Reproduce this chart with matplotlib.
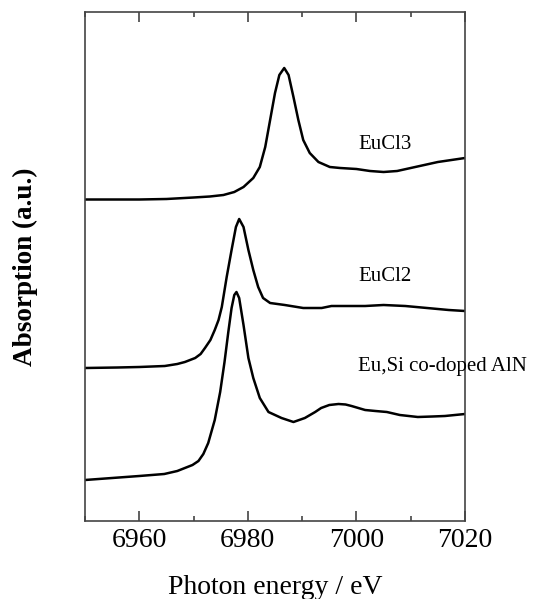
import numpy as np
import matplotlib
matplotlib.use("Agg")
import matplotlib.pyplot as plt
from matplotlib.ticker import MultipleLocator, NullLocator

plt.rcParams['font.family'] = ['Liberation Serif', 'DejaVu Serif']

# photon energy (eV) and absorption (a.u., offset per spectrum)
e_eucl3 = [6950, 6960, 6965, 6970, 6973, 6975.5, 6977.5, 6979.2, 6981.0, 6982.2, 6983.2,
           6984.1, 6985.0, 6985.8, 6986.7, 6987.5, 6988.4, 6989.3, 6990.2, 6991.4,
           6993.0, 6995.1, 6997.0, 7000, 7002.5, 7005, 7007.5, 7010, 7012.5, 7015,
           7017.5, 7020]
a_eucl3 = [3.215, 3.215, 3.22, 3.235, 3.245, 3.26, 3.29, 3.34, 3.43, 3.54, 3.74,
           4.01, 4.28, 4.46, 4.53, 4.46, 4.24, 4.01, 3.81, 3.68,
           3.59, 3.54, 3.53, 3.52, 3.50, 3.49, 3.50, 3.53, 3.56, 3.59,
           3.61, 3.63]

e_eucl2 = [6950, 6956, 6960, 6964.7, 6967, 6968.4, 6970.3, 6971.3, 6972.1, 6973.1,
           6973.9, 6974.6, 6975.2, 6976.1, 6977.0, 6977.8, 6978.4, 6979.2, 6980.1,
           6981.0, 6981.9, 6982.8, 6984.1, 6986.8, 6990.2, 6993.6, 6995.4, 6998,
           7001.6, 7005, 7009, 7013, 7017, 7020]
a_eucl2 = [1.53, 1.535, 1.54, 1.55, 1.57, 1.59, 1.63, 1.67, 1.73, 1.81,
           1.91, 2.01, 2.14, 2.44, 2.71, 2.94, 3.02, 2.94, 2.71,
           2.51, 2.34, 2.23, 2.18, 2.16, 2.13, 2.13, 2.15, 2.15,
           2.15, 2.16, 2.15, 2.13, 2.11, 2.10]

e_aln = [6950, 6955, 6960, 6964.6, 6967, 6968.4, 6969.8, 6970.9, 6971.8, 6972.7, 6973.9,
         6974.9, 6975.7, 6976.4, 6977.0, 6977.5, 6977.9, 6978.4, 6979.2, 6980.1,
         6981.0, 6982.2, 6983.8, 6986.2, 6988.4, 6990.5, 6992.4, 6993.5, 6995,
         6996.7, 6998, 6999.1, 7001.6, 7003.5, 7005.6, 7008, 7011.3, 7014, 7016.3,
         7020]
a_aln = [0.41, 0.43, 0.45, 0.47, 0.50, 0.53, 0.56, 0.60, 0.67, 0.78, 1.01,
         1.29, 1.59, 1.89, 2.13, 2.26, 2.29, 2.23, 1.96, 1.63,
         1.43, 1.23, 1.09, 1.03, 0.99, 1.03, 1.09, 1.13, 1.16,
         1.17, 1.165, 1.15, 1.11, 1.10, 1.09, 1.06, 1.04, 1.045, 1.05,
         1.07]

labels = ["EuCl3", "EuCl2", "Eu,Si co-doped AlN"]
label_y = [3.76, 2.44, 1.54]

fig = plt.figure(figsize=(5.36, 5.99), dpi=100)
ax = fig.add_axes([85/536, 1 - 521/599, 380/536, 509/599])

for e, a in [(e_eucl3, a_eucl3), (e_eucl2, a_eucl2), (e_aln, a_aln)]:
    ax.plot(e, a, color='black', lw=1.8, solid_joinstyle='round')

for lab, y in zip(labels, label_y):
    ax.text(7000.3, y, lab, fontsize=15, ha='left', va='center', clip_on=False)

ax.set_xlim(6950, 7020)
ax.set_ylim(0, 5.09)
ax.xaxis.set_major_locator(MultipleLocator(20))
ax.xaxis.set_minor_locator(MultipleLocator(10))
ax.yaxis.set_major_locator(NullLocator())
ax.tick_params(axis='x', which='both', direction='in', top=True, labelsize=20, pad=5,
               color='#444444', width=1.2)
ax.tick_params(axis='x', which='major', length=7.2)
ax.tick_params(axis='x', which='minor', length=3.6)
for s in ax.spines.values():
    s.set_color('#444444')
    s.set_linewidth(1.2)

ax.set_xlabel("Photon energy / eV", fontsize=20, labelpad=16)
ax.set_ylabel("Absorption (a.u.)", fontsize=19.5, fontweight='bold', labelpad=34)

fig.savefig("out.png", dpi=100)
